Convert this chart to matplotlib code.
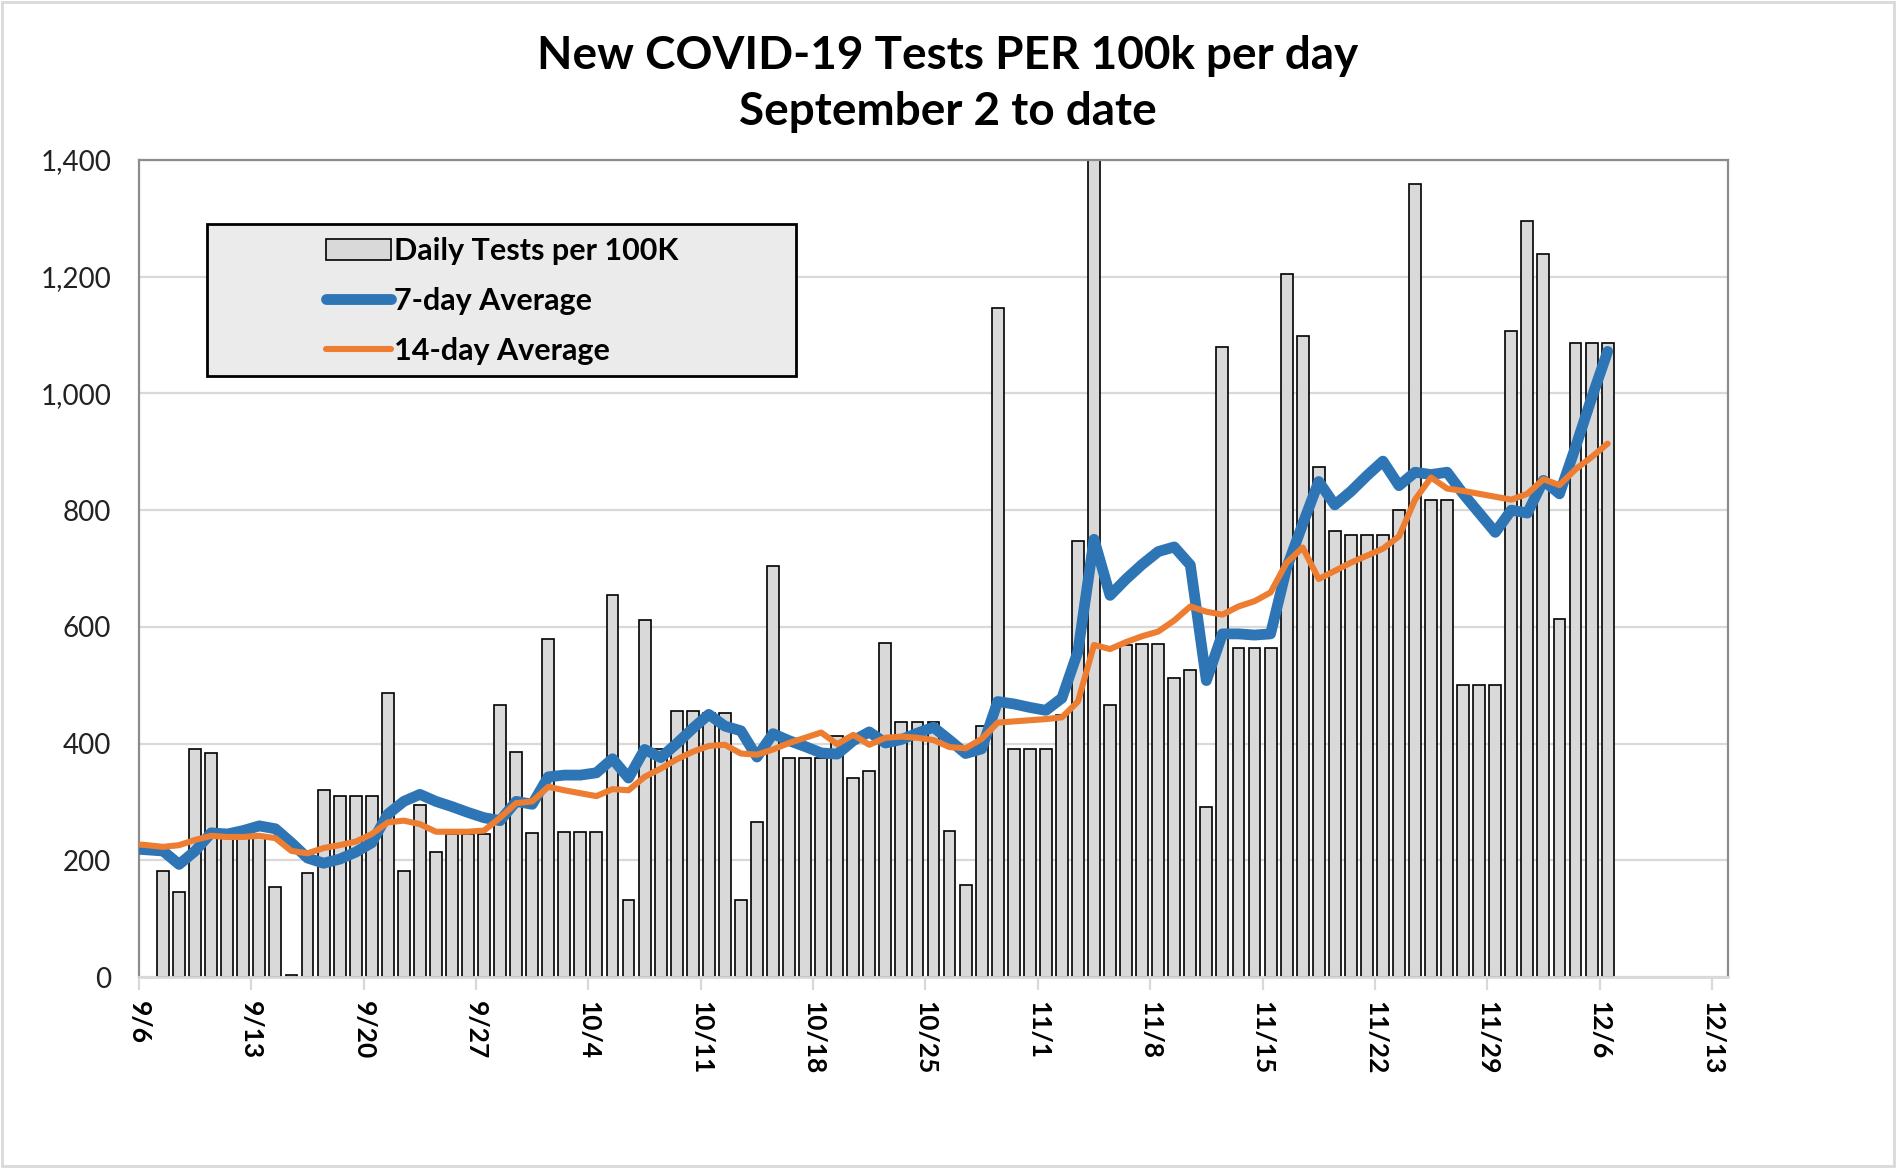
import pandas as pd
import matplotlib
matplotlib.use("Agg")
import matplotlib.pyplot as plt
from matplotlib.patches import Rectangle


# Daily tests per 100k, one bar per day from 9/7 to 12/6.
bar_start = "2020-09-07"
daily_tests = [
    181, 146, 390, 384, 240, 240, 240, 155, 3, 179,
    320, 311, 311, 311, 486, 181, 295, 214, 245, 245,
    245, 466, 386, 247, 579, 249, 249, 249, 654, 132,
    611, 390, 456, 456, 452, 452, 132, 265, 705, 376,
    376, 376, 413, 341, 353, 573, 437, 437, 437, 251,
    158, 430, 1146, 390, 390, 390, 449, 748, 1420, 466,
    569, 571, 571, 513, 526, 292, 1079, 564, 564, 564,
    1204, 1099, 874, 764, 757, 757, 757, 801, 1359, 817,
    817, 500, 500, 500, 1107, 1295, 1239, 614, 1087, 1087,
    1087,
]

# Rolling averages, one point per day from 9/5 to 12/6.
line_start = "2020-09-05"
avg_7day = [
    220, 218, 216, 193, 216, 247, 245, 251, 259, 254,
    230, 204, 195, 202, 214, 230, 279, 301, 313, 301,
    292, 282, 273, 268, 301, 296, 343, 346, 346, 350,
    374, 341, 390, 376, 400, 426, 450, 430, 422, 377,
    417, 405, 395, 384, 382, 405, 420, 401, 407, 418,
    428, 406, 383, 391, 472, 468, 462, 457, 478, 558,
    750, 654, 682, 707, 729, 737, 706, 508, 588, 588,
    586, 588, 701, 776, 849, 809, 832, 859, 884, 842,
    865, 861, 865, 828, 795, 762, 800, 795, 851, 828,
    908, 992, 1072,
]
avg_14day = [
    228, 226, 223, 226, 235, 242, 240, 240, 242, 238,
    216, 212, 221, 226, 232, 245, 265, 268, 262, 249,
    249, 249, 251, 273, 298, 301, 326, 320, 315, 310,
    322, 320, 343, 357, 373, 386, 396, 398, 383, 381,
    390, 401, 410, 419, 399, 415, 398, 410, 412, 410,
    406, 394, 392, 408, 436, 438, 440, 442, 445, 472,
    569, 562, 574, 584, 592, 611, 635, 626, 621, 635,
    644, 659, 710, 736, 682, 696, 710, 722, 734, 755,
    818, 856, 837, 833, 828, 823, 818, 828, 853, 843,
    870, 891, 914,
]

# Weekly ticks on the date axis.
tick_start = "2020-09-06"
tick_end = "2020-12-13"
x_min = "2020-09-06"
x_max = "2020-12-14"
y_ticks = [0, 200, 400, 600, 800, 1000, 1200, 1400]

title = "New COVID-19 Tests PER 100k per day\nSeptember 2 to date"
labels = ["Daily Tests per 100K", "7-day Average", "14-day Average"]

BLUE = "#2e75b6"
ORANGE = "#ed7d31"
GRID = "#d9d9d9"


def main():
    plt.rcParams["font.family"] = ["Lato", "DejaVu Sans"]

    fig = plt.figure(figsize=(18.96, 11.68), dpi=100)
    ax = fig.add_axes([0.0733, 0.1635, 0.8381, 0.6995])

    half_day = pd.Timedelta(hours=12)
    bar_dates = pd.date_range(bar_start, periods=len(daily_tests), freq="D") + half_day
    line_dates = pd.date_range(line_start, periods=len(avg_7day), freq="D") + half_day

    bars = ax.bar(
        bar_dates, daily_tests, width=0.74, color="#d9d9d9",
        edgecolor="black", linewidth=1.2, zorder=2, label=labels[0],
    )
    (l7,) = ax.plot(
        line_dates, avg_7day, color=BLUE, linewidth=7.8, zorder=3,
        solid_joinstyle="round", solid_capstyle="round", label=labels[1],
    )
    (l14,) = ax.plot(
        line_dates, avg_14day, color=ORANGE, linewidth=4.4, zorder=4,
        solid_joinstyle="round", solid_capstyle="round", label=labels[2],
    )

    # Axes limits and grid.
    ax.set_xlim(pd.Timestamp(x_min), pd.Timestamp(x_max))
    ax.set_ylim(0, 1400)
    ax.set_yticks(y_ticks)
    ax.set_yticklabels([f"{v:,}" for v in y_ticks], fontsize=20, color="#222222")
    ax.yaxis.grid(True, color=GRID, linewidth=1.6)
    ax.set_axisbelow(True)
    ax.tick_params(axis="y", length=0, pad=20)

    ticks = pd.date_range(tick_start, tick_end, freq="7D")
    ax.set_xticks(ticks)
    ax.set_xticklabels(
        [f"{d.month}/{d.day}" for d in ticks], rotation=270,
        fontsize=19, fontweight="bold", ha="center", va="top",
    )
    ax.tick_params(axis="x", length=9, width=1.6, color=GRID, pad=8)

    for side in ["left", "top", "right"]:
        ax.spines[side].set_color("#8c8c8c")
        ax.spines[side].set_linewidth(1.6)
    ax.spines["bottom"].set_color(GRID)
    ax.spines["bottom"].set_linewidth(2)

    # Title.
    fig.text(
        0.5, 0.928, title, ha="center", va="center", fontsize=33,
        fontweight="bold", linespacing=1.4,
    )

    # Legend box drawn by hand, the legend itself without frame.
    fig.patches.append(
        Rectangle(
            (0.1092, 0.6781), 0.3106, 0.1301, transform=fig.transFigure,
            facecolor="#ebebeb", edgecolor="black", linewidth=2, zorder=5,
        )
    )
    leg = fig.legend(
        handles=[bars, l7, l14], labels=labels, loc="upper left",
        bbox_to_anchor=(0.1722, 0.797), frameon=False,
        prop={"weight": "bold", "size": 22}, handlelength=2.1,
        handletextpad=0.1, labelspacing=0.72, borderpad=0, borderaxespad=0,
    )
    leg.set_zorder(6)

    # Thin border around the whole chart.
    fig.patches.append(
        Rectangle(
            (0.001, 0.002), 0.998, 0.996, transform=fig.transFigure,
            facecolor="none", edgecolor=GRID, linewidth=2,
        )
    )

    fig.savefig("out.png", dpi=100)


if __name__ == "__main__":
    main()
